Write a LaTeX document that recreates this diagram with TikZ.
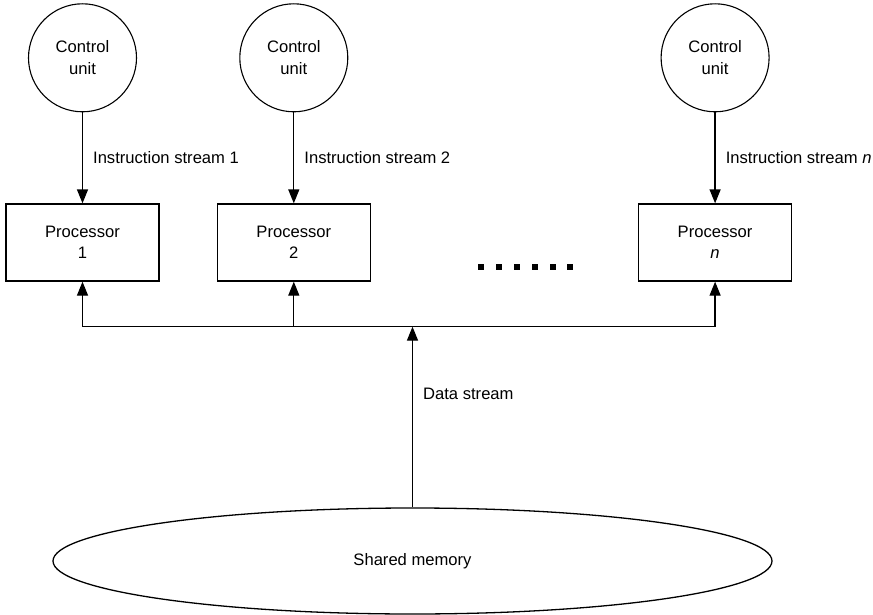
\documentclass[tikz,border=0pt]{standalone}
\usepackage{fontspec}
\setmainfont{Liberation Sans}
\usetikzlibrary{arrows.meta,positioning,shapes.geometric}

\begin{document}
\begin{tikzpicture}[
    x=1pt, y=1pt,
    node distance=91pt,
    every node/.style={font=\fontsize{16.6}{21.5}\selectfont},
    unit/.style={draw, circle, line width=1.1pt, minimum size=108pt, inner sep=0pt, align=center},
    proc/.style={draw, line width=1.3pt, minimum width=153pt, minimum height=77pt, inner sep=0pt, align=center},
    memory/.style={draw, ellipse, line width=1.3pt, minimum width=719pt, minimum height=106pt, inner sep=0pt},
    flow/.style={-{Triangle[length=14pt, width=11pt]}, line width=1.3pt},
    streamtext/.style={right=10pt, inner sep=0pt}
]
\useasboundingbox (0,0) rectangle (873,-615);
\node[proc] (proc1) at (82.5,-242.5) {Processor\\1};
\node[proc, right=57pt of proc1] (proc2) {Processor\\2};
\node[proc, right=267pt of proc2] (procn) {Processor\\\textit{n}};
\node[unit, above=of proc1] (cu1) {Control\\unit};
\node[unit, above=of proc2] (cu2) {Control\\unit};
\node[unit, above=of procn] (cun) {Control\\unit};
\node[memory] (mem) at (412.5,-561) {Shared memory};
\coordinate[below=45pt of proc1] (bus1);
\coordinate[below=45pt of proc2] (bus2);
\coordinate[below=45pt of procn] (busn);
\coordinate (tap) at (mem.north |- bus1);
\draw[flow] (cu1) -- node[streamtext, midway] {Instruction stream 1} (proc1);
\draw[flow] (cu2) -- node[streamtext, midway] {Instruction stream 2} (proc2);
\draw[flow] (cun) -- node[streamtext, midway] {Instruction stream \textit{n}} (procn);
\draw[line width=1.3pt] (bus1) -- (busn);
\foreach \p in {1,2,n} \draw[flow] (bus\p) -- (proc\p);
\draw[flow] (mem) -- node[streamtext, pos=0.63] {Data stream} (tap);
\foreach \k in {0,...,5} \fill ({478.3+17.8*\k},-263.7) rectangle ++(6,-6);
\end{tikzpicture}
\end{document}
